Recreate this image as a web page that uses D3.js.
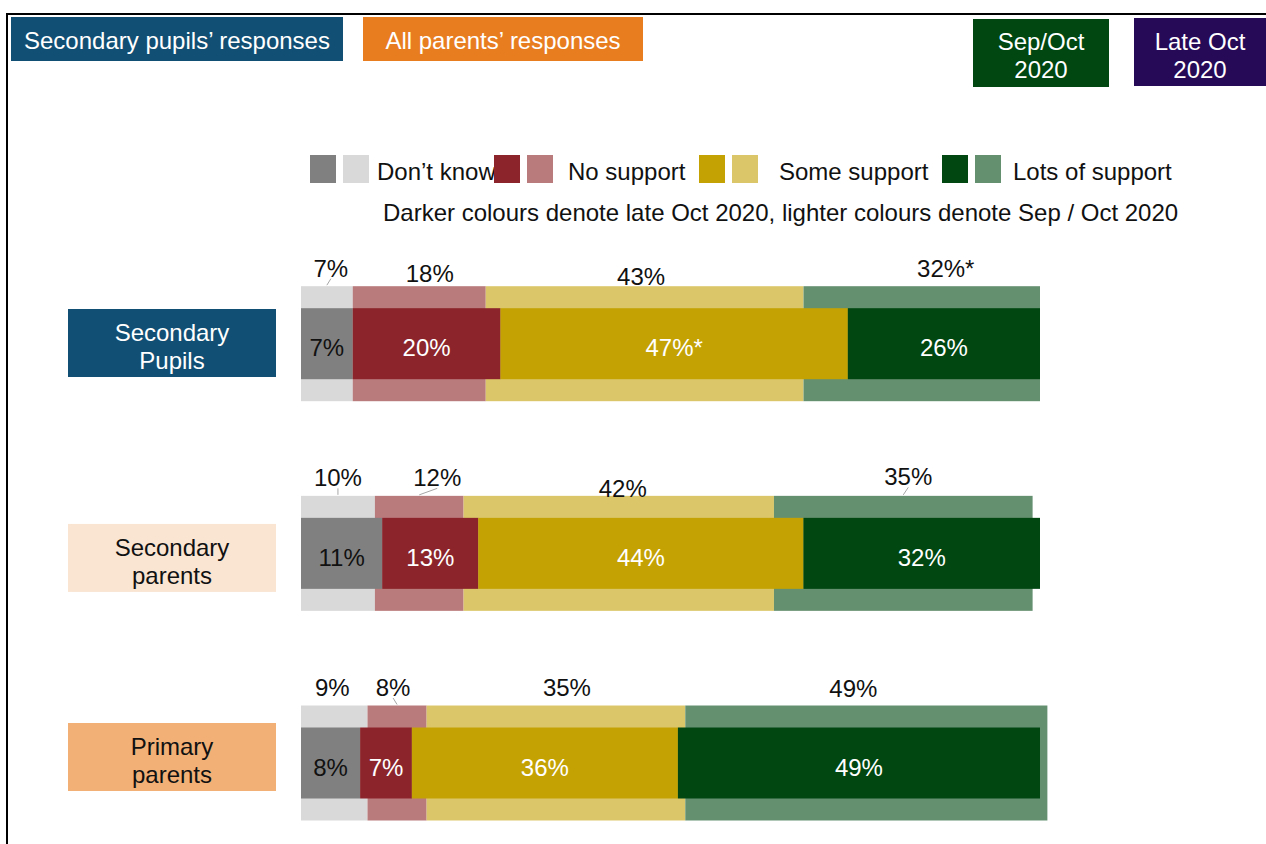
<!DOCTYPE html>
<html>
<head>
<meta charset="utf-8">
<script src="https://cdn.jsdelivr.net/npm/d3@7"></script>
<style>
  html, body { margin: 0; padding: 0; background: #fff; }
  svg { display: block; font-family: "Liberation Sans", Arial, sans-serif; }
</style>
</head>
<body>
<svg id="chart" width="1266" height="844"></svg>
<script>
// ---------------- DATA ----------------
const groups = ["Secondary Pupils", "Secondary parents", "Primary parents"];
const groupLabelLines = [["Secondary", "Pupils"], ["Secondary", "parents"], ["Primary", "parents"]];
const responses = ["Don\u2019t know", "No support", "Some support", "Lots of support"];
// Late Oct 2020 (darker, inner bar)
const lateOct = [[7, 20, 47, 26], [11, 13, 44, 32], [8, 7, 36, 49]];
const lateOctSig = [[0, 0, 1, 0], [0, 0, 0, 0], [0, 0, 0, 0]];
// Sep/Oct 2020 (lighter, outer bar)
const sepOct = [[7, 18, 43, 32], [10, 12, 42, 35], [9, 8, 35, 49]];
const sepOctSig = [[0, 0, 0, 1], [0, 0, 0, 0], [0, 0, 0, 0]];
const headerLabels = ["Secondary pupils\u2019 responses", "All parents\u2019 responses"];
const periodLabels = [["Sep/Oct", "2020"], ["Late Oct", "2020"]];
const legendNote = "Darker colours denote late Oct 2020, lighter colours denote Sep / Oct 2020";

// ---------------- STYLE / LAYOUT ----------------
const darkColors = ["#808080", "#8B252B", "#C4A204", "#004712"];
const lightColors = ["#D9D9D9", "#BA7B7D", "#DBC76A", "#659070"];
const darkText = ["#111", "#fff", "#fff", "#fff"];
const groupBoxFill = ["#124F74", "#FAE5D3", "#F2B077"];
const groupBoxText = ["#fff", "#111", "#111"];
const groupBoxDy = [-0.7, 4.6, -6];
// light label offsets: [dx from segment centre, label centre y relative to bar top, leader line]
const lightLabelLayout = [
  [[4, -18, 1], [10.5, -13, 0], [-3.5, -10, 0], [24, -18, 0]],
  [[0, -18, 1], [18, -18, 1], [4, -7, 0], [5, -19, 1]],
  [[-2, -18, 0], [-4, -18, 1], [11, -18, 0], [-13, -17, 0]]
];
const FS = 24;
const lightH = 115, darkH = 71;

const svg = d3.select("#chart");
const x = d3.scaleLinear().domain([0, 100]).range([301, 1040]);
const y = d3.scalePoint().domain(groups).range([343.7, 763]);

function cum(vals) {
  let s = 0;
  return vals.map((v, i) => { const d = { i, v, start: s, end: s + v }; s += v; return d; });
}

// frame
svg.append("line").attr("x1", 6).attr("x2", 1266).attr("y1", 14).attr("y2", 14)
  .attr("stroke", "#000").attr("stroke-width", 2);
svg.append("line").attr("x1", 7).attr("x2", 7).attr("y1", 13).attr("y2", 844)
  .attr("stroke", "#000").attr("stroke-width", 2);

// header boxes
const headerBoxes = [
  { x: 11, y: 17, w: 332, h: 44, fill: "#124F74" },
  { x: 363, y: 17, w: 280, h: 44, fill: "#E87D20" }
];
headerBoxes.forEach((b, i) => {
  svg.append("rect").attr("x", b.x).attr("y", b.y).attr("width", b.w).attr("height", b.h).attr("fill", b.fill);
  svg.append("text").attr("x", b.x + b.w / 2).attr("y", b.y + b.h / 2 + 10.2)
    .attr("text-anchor", "middle").attr("font-size", FS).attr("fill", "#fff").text(headerLabels[i]);
});
const periodBoxes = [
  { x: 973, y: 19, w: 136, h: 68, fill: "#004711" },
  { x: 1134, y: 18, w: 132, h: 68, fill: "#260A58" }
];
periodBoxes.forEach((b, i) => {
  svg.append("rect").attr("x", b.x).attr("y", b.y).attr("width", b.w).attr("height", b.h).attr("fill", b.fill);
  periodLabels[i].forEach((t, j) => {
    svg.append("text").attr("x", b.x + b.w / 2).attr("y", 50 + j * 28)
      .attr("text-anchor", "middle").attr("font-size", FS).attr("fill", "#fff").text(t);
  });
});

// legend
const legendX = [310, 494, 699, 942];
const legendTextX = [377, 568, 779, 1013];
responses.forEach((r, i) => {
  svg.append("rect").attr("x", legendX[i]).attr("y", 155).attr("width", 26).attr("height", 28).attr("fill", darkColors[i]);
  svg.append("rect").attr("x", legendX[i] + 33).attr("y", 155).attr("width", 26).attr("height", 28).attr("fill", lightColors[i]);
});
responses.forEach((r, i) => {
  svg.append("text").attr("x", legendTextX[i]).attr("y", 179.5).attr("font-size", FS).attr("fill", "#111").text(r);
});
// No support dark square sits on top of the "Don't know" text
svg.append("rect").attr("x", legendX[1]).attr("y", 155).attr("width", 26).attr("height", 28).attr("fill", darkColors[1]);
svg.append("text").attr("x", 383).attr("y", 221).attr("font-size", FS).attr("fill", "#111").text(legendNote);

// group boxes
groups.forEach((g, gi) => {
  const cy = y(g) + groupBoxDy[gi];
  svg.append("rect").attr("x", 68).attr("y", cy - 34).attr("width", 208).attr("height", 68).attr("fill", groupBoxFill[gi]);
  groupLabelLines[gi].forEach((t, j) => {
    svg.append("text").attr("x", 172).attr("y", cy + 3.5 - 14 + j * 28 + 8.6)
      .attr("text-anchor", "middle").attr("font-size", FS).attr("fill", groupBoxText[gi]).text(t);
  });
});

// bars
groups.forEach((g, gi) => {
  const cy = y(g);
  const top = cy - lightH / 2;
  const light = cum(sepOct[gi]);
  const dark = cum(lateOct[gi]);
  const G = svg.append("g");
  G.selectAll("rect.light").data(light).join("rect")
    .attr("x", d => x(d.start)).attr("width", d => x(d.end) - x(d.start))
    .attr("y", top).attr("height", lightH).attr("fill", d => lightColors[d.i]);
  G.selectAll("rect.dark").data(dark).join("rect")
    .attr("x", d => x(d.start)).attr("width", d => x(d.end) - x(d.start))
    .attr("y", cy - darkH / 2).attr("height", darkH).attr("fill", d => darkColors[d.i]);
  G.selectAll("text.dark").data(dark).join("text")
    .attr("x", d => (x(d.start) + x(d.end)) / 2).attr("y", cy + 4 + 8.6)
    .attr("text-anchor", "middle").attr("font-size", FS).attr("fill", d => darkText[d.i])
    .text(d => d.v + "%" + (lateOctSig[gi][d.i] ? "*" : ""));
  light.forEach(d => {
    const [dx, dy, leader] = lightLabelLayout[gi][d.i];
    const sc = (x(d.start) + x(d.end)) / 2;
    const lx = sc + dx, ly = top + dy;
    if (leader) {
      G.append("line").attr("x1", sc).attr("y1", top - 1).attr("x2", lx).attr("y2", ly + 10.5)
        .attr("stroke", "#A6A6A6").attr("stroke-width", 1);
    }
    G.append("text").attr("x", lx).attr("y", ly + 8.6).attr("text-anchor", "middle")
      .attr("font-size", FS).attr("fill", "#111")
      .text(d.v + "%" + (sepOctSig[gi][d.i] ? "*" : ""));
  });
});
</script>
</body>
</html>
